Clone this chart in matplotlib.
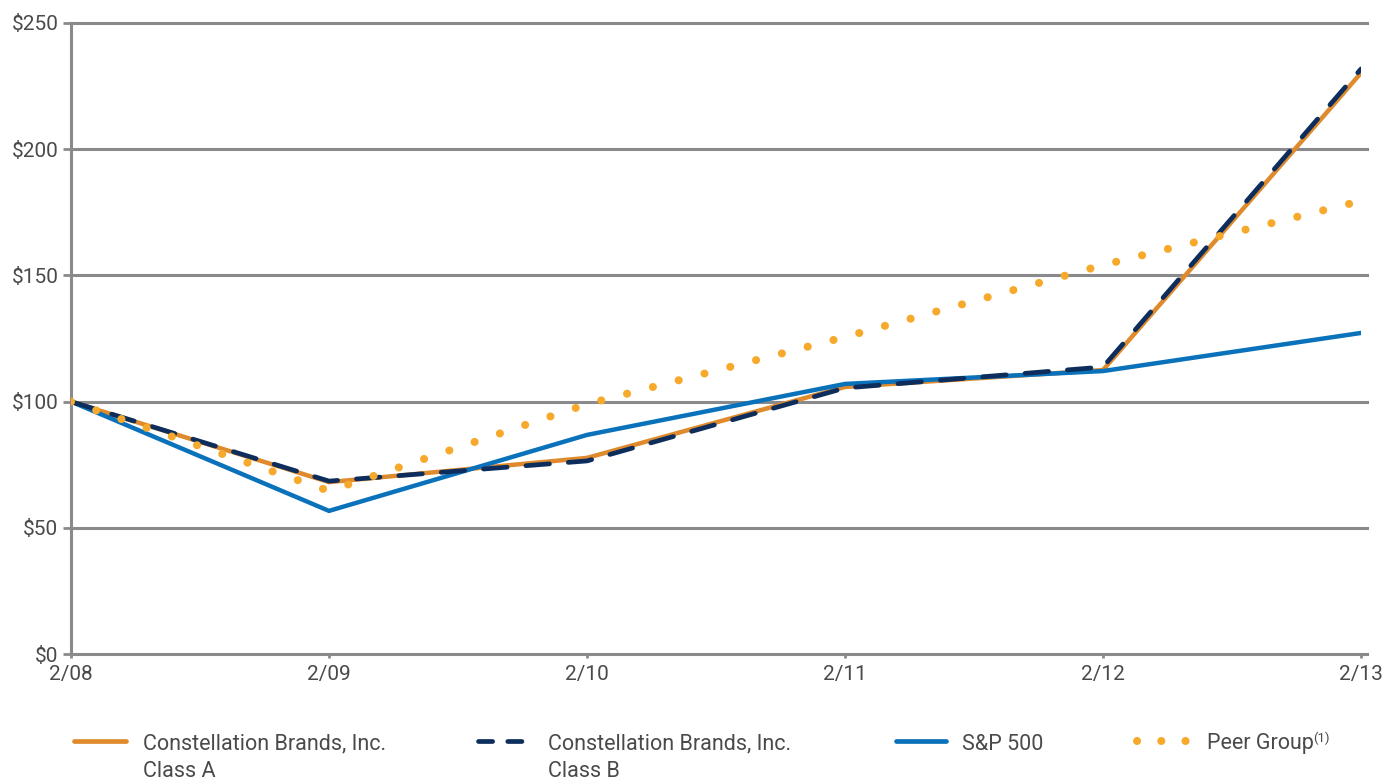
import matplotlib
matplotlib.use("Agg")
import matplotlib.pyplot as plt
from matplotlib.lines import Line2D

plt.rcParams['font.family'] = ['Roboto', 'DejaVu Sans']

years = ["2/08", "2/09", "2/10", "2/11", "2/12", "2/13"]
class_a = [100, 68.1, 77.7, 105.8, 112.5, 230.2]
class_b = [100, 68.5, 76.5, 105.4, 113.7, 231.8]
sp500 = [100, 56.7, 86.8, 107.0, 112.1, 127.2]
peer = [100, 64.6, 99.0, 125.6, 154.1, 179.5]
yticks = [0, 50, 100, 150, 200, 250]

C_A = "#DF8A2C"
C_B = "#0D2E5C"
C_SP = "#0A71BB"
C_PEER = "#F7A92B"
GRID = "#8A8A8D"
TXT = "#4A4A4A"

fig = plt.figure(figsize=(13.85, 7.81), dpi=100)
ax = fig.add_axes([71/1385, 1-654/781, (1361-71)/1385, (654-23)/781])
x = list(range(len(years)))

for v in yticks:
    ax.axhline(v, color=GRID, lw=2.2, zorder=1, xmin=0, xmax=1.005, clip_on=False)

ax.plot(x, class_a, color=C_A, lw=3.2, solid_capstyle='round', zorder=3)
ax.plot(x, class_b, color=C_B, lw=3.4, dashes=(5, 4), dash_capstyle='round', zorder=4)
ax.plot(x, sp500, color=C_SP, lw=3.2, solid_capstyle='round', zorder=3.5)
ax.plot(x, peer, color=C_PEER, lw=5.8, dashes=(0.01, 3.3), dash_capstyle='round', zorder=5)

ax.set_xlim(0, 5)
ax.set_ylim(0, 250)
ax.set_yticks(yticks)
ax.set_yticklabels([f"${v}" for v in yticks])
ax.set_xticks(x)
ax.set_xticklabels(years)
for s in ["top", "right", "bottom"]:
    ax.spines[s].set_visible(False)
ax.spines["left"].set_color(GRID)
ax.spines["left"].set_linewidth(2.2)
ax.tick_params(axis='y', length=6, width=2, color=GRID, pad=3, labelsize=15, labelcolor=TXT)
ax.tick_params(axis='x', length=3, width=2, color=GRID, pad=5, labelsize=15, labelcolor=TXT)

# legend (manual)
def fx(px):
    return px / 1385
def fy(py):
    return 1 - py / 781

ly = 741
fig.add_artist(Line2D([fx(74), fx(126)], [fy(ly), fy(ly)], color=C_A, lw=3.4,
                      solid_capstyle='round', transform=fig.transFigure))
fig.add_artist(Line2D([fx(478), fx(530)], [fy(ly), fy(ly)], color=C_B, lw=3.4,
                      dashes=(3.0, 3.2), dash_capstyle='round', transform=fig.transFigure))
fig.add_artist(Line2D([fx(896), fx(946)], [fy(ly), fy(ly)], color=C_SP, lw=3.4,
                      solid_capstyle='round', transform=fig.transFigure))
fig.add_artist(Line2D([fx(1137), fx(1187)], [fy(ly), fy(ly)], color=C_PEER, lw=5.8,
                      dashes=(0.01, 3.0), dash_capstyle='round', transform=fig.transFigure))

kw = dict(fontsize=15.5, color=TXT, va='center', ha='left', linespacing=1.4)
fig.text(fx(143), fy(757.5), "Constellation Brands, Inc.\nClass A", **kw)
fig.text(fx(548), fy(757.5), "Constellation Brands, Inc.\nClass B", **kw)
fig.text(fx(962), fy(744), "S&P 500", **kw)
fig.text(fx(1207), fy(744), "Peer Group", **kw)
fig.text(fx(1313), fy(738), "(1)", fontsize=9.5, color=TXT, va='center', ha='left')

fig.savefig("out.png", dpi=100)
